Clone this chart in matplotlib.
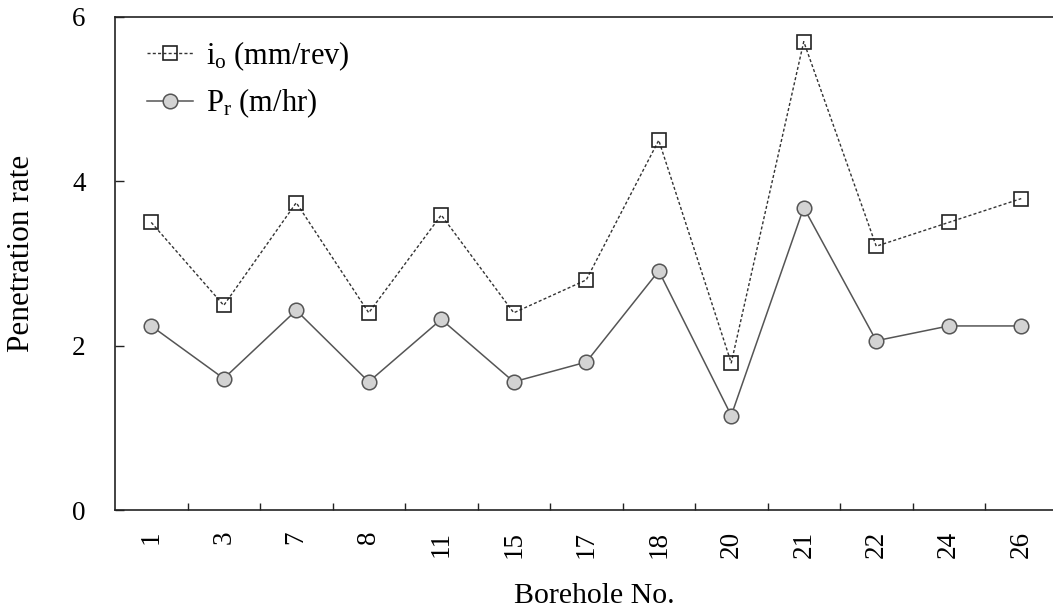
import matplotlib
matplotlib.use("Agg")
import matplotlib.pyplot as plt
from matplotlib.ticker import FixedLocator, NullFormatter

plt.rcParams['font.family'] = ['Liberation Serif', 'DejaVu Serif']
plt.rcParams['mathtext.fontset'] = 'custom'
plt.rcParams['mathtext.rm'] = 'Liberation Serif'
plt.rcParams['mathtext.it'] = 'Liberation Serif:italic'

boreholes = ['1', '3', '7', '8', '11', '15', '17', '18', '20', '21', '22', '24', '26']
io_values = [3.50, 2.49, 3.74, 2.40, 3.59, 2.40, 2.80, 4.50, 1.79, 5.70, 3.21, 3.50, 3.79]
pr_values = [2.24, 1.60, 2.43, 1.56, 2.32, 1.56, 1.80, 2.91, 1.15, 3.68, 2.06, 2.24, 2.24]
y_ticks = [0, 2, 4, 6]

W, H = 1053, 611
fig = plt.figure(figsize=(W / 100, H / 100), dpi=100)
ax = fig.add_axes([115 / W, (H - 510) / H, 942.5 / W, 493 / H])

x = list(range(len(boreholes)))
ax.plot(x, io_values, linestyle=(0, (2.2, 1.6)), color='#333333', lw=1.0,
        marker='s', markersize=10, markerfacecolor='none', markeredgecolor='#222222',
        markeredgewidth=1.2, label=r'i$_\mathrm{o}$ (mm/rev)', zorder=3)
ax.plot(x, pr_values, linestyle='-', color='#555555', lw=1.1,
        marker='o', markersize=10.5, markerfacecolor='#d3d3d3', markeredgecolor='#555555',
        markeredgewidth=1.1, label=r'P$_\mathrm{r}$ (m/hr)', zorder=4)

ax.set_xlim(-0.5, len(boreholes) - 0.5)
ax.set_ylim(0, 6)
ax.set_yticks(y_ticks)
ax.set_xticks(x)
ax.set_xticklabels(boreholes, rotation=90, fontsize=19.5)
ax.xaxis.set_minor_locator(FixedLocator([i + 0.5 for i in range(len(boreholes) - 1)]))
ax.xaxis.set_minor_formatter(NullFormatter())
ax.tick_params(axis='x', which='major', length=0, pad=15)
ax.tick_params(axis='x', which='minor', direction='in', length=5, width=1, color='#222222')
ax.tick_params(axis='y', direction='in', length=6.5, width=1, pad=21, labelsize=19.5, color='#222222')

for s in ax.spines.values():
    s.set_linewidth(1.2)
    s.set_color('#222222')

ax.set_ylabel('Penetration rate', fontsize=22.5)
ax.yaxis.set_label_coords(-0.099, 0.52)
ax.set_xlabel('Borehole No.', fontsize=21.5)
ax.xaxis.set_label_coords(0.509, -0.174)
ax.xaxis.label.set_va('center')
ax.yaxis.label.set_va('center')

leg = ax.legend(loc='upper left', bbox_to_anchor=(0.034, 0.955), frameon=False,
                fontsize=22, borderpad=0, borderaxespad=0, handlelength=1.5,
                handletextpad=0.43, labelspacing=0.45)

fig.savefig('out.png', dpi=100)
